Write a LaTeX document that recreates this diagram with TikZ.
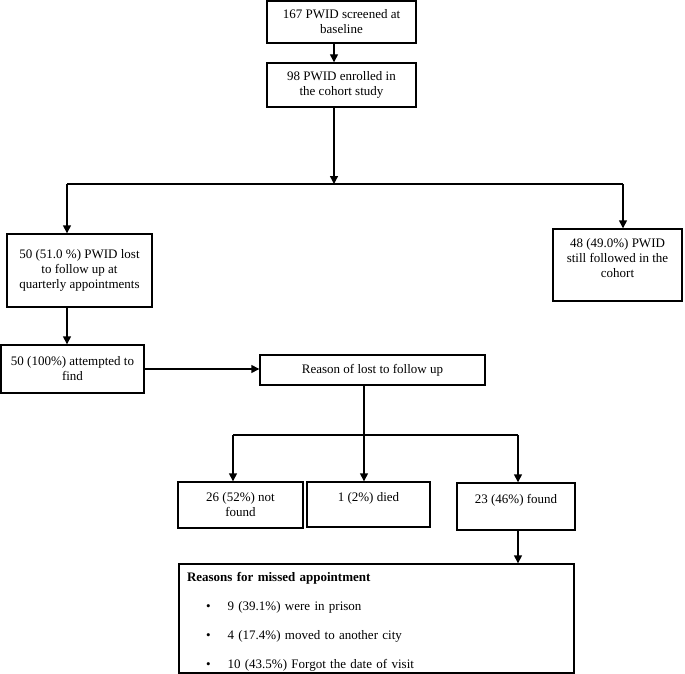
\documentclass[tikz,border=0pt]{standalone}
\usepackage{fontspec}
\setmainfont{Liberation Serif}
\usetikzlibrary{arrows.meta}
\begin{document}
\begin{tikzpicture}
	[x=1pt, y=-1pt, line width=1.4pt,
	font=\fontsize{13}{15}\selectfont,
	box/.style={rectangle,draw,align=center,inner sep=2pt},
	arr/.style={-{Triangle[length=8pt,width=8pt]}}]
	\useasboundingbox (0,0) rectangle (685,674);
	\node (screen) at (341.5, 22) [box,minimum width=149pt,minimum height=42pt] {167 PWID screened at\\baseline};
	\node (enrol) at (341.5, 85) [box,minimum width=149pt,minimum height=44pt] {98 PWID enrolled in\\the cohort study};
	\node (lost) at (79.5, 270.5) [box,minimum width=145pt,minimum height=73pt] {50 (51.0 \%) PWID lost\\to follow up at\\quarterly appointments};
	\node (followed) at (617.5, 265) [box,minimum width=129pt,minimum height=72pt] {48 (49.0\%) PWID\\still followed in the\\cohort\\\mbox{}};
	\node (attempt) at (72.5, 369) [box,minimum width=143pt,minimum height=48pt] {50 (100\%) attempted to\\find};
	\node (reason) at (372.5, 370) [box,minimum width=225pt,minimum height=30pt] {Reason of lost to follow up};
	\node (notfound) at (240.5, 505) [box,minimum width=125pt,minimum height=46pt] {26 (52\%) not\\found};
	\node (died) at (368.5, 504.5) [box,minimum width=123pt,minimum height=45pt] {1 (2\%) died\\\mbox{}};
	\node (found) at (516, 506.5) [box,minimum width=118pt,minimum height=47pt] {23 (46\%) found\\\mbox{}};
	\node (missed) at (376.5, 618.5) [box,align=left,inner xsep=8pt,text width=379pt,minimum height=109pt]
		{\rule{0pt}{15pt}\textbf{Reasons for missed appointment}\\[14pt]
		\hspace*{19pt}\textbullet\hspace{17pt}9 (39.1\%) were in prison\\[14pt]
		\hspace*{19pt}\textbullet\hspace{17pt}4 (17.4\%) moved to another city\\[14pt]
		\hspace*{19pt}\textbullet\hspace{17pt}10 (43.5\%) Forgot the date of visit};
	\coordinate (split) at (334, 184);
	\coordinate (splitL) at (67, 184);
	\coordinate (splitR) at (623, 184);
	\coordinate (branch) at (364, 435);
	\coordinate (branchL) at (233, 435);
	\coordinate (branchR) at (518, 435);
	\draw [arr] (screen.south -| split) to (enrol.north -| split);
	\draw [arr] (enrol.south -| split) to (split);
	\draw [-] (splitL) to (splitR);
	\draw [arr] (splitL) to (splitL |- lost.north);
	\draw [arr] (splitR) to (splitR |- followed.north);
	\draw [arr] (lost.south -| splitL) to (attempt.north -| splitL);
	\draw [arr] (attempt.east) to (attempt.east -| reason.west);
	\draw [-] (reason.south -| branch) to (branch);
	\draw [-] (branchL) to (branchR);
	\draw [arr] (branchL) to (branchL |- notfound.north);
	\draw [arr] (branch) to (branch |- died.north);
	\draw [arr] (branchR) to (branchR |- found.north);
	\draw [arr] (found.south -| branchR) to (missed.north -| branchR);
\end{tikzpicture}
\end{document}
